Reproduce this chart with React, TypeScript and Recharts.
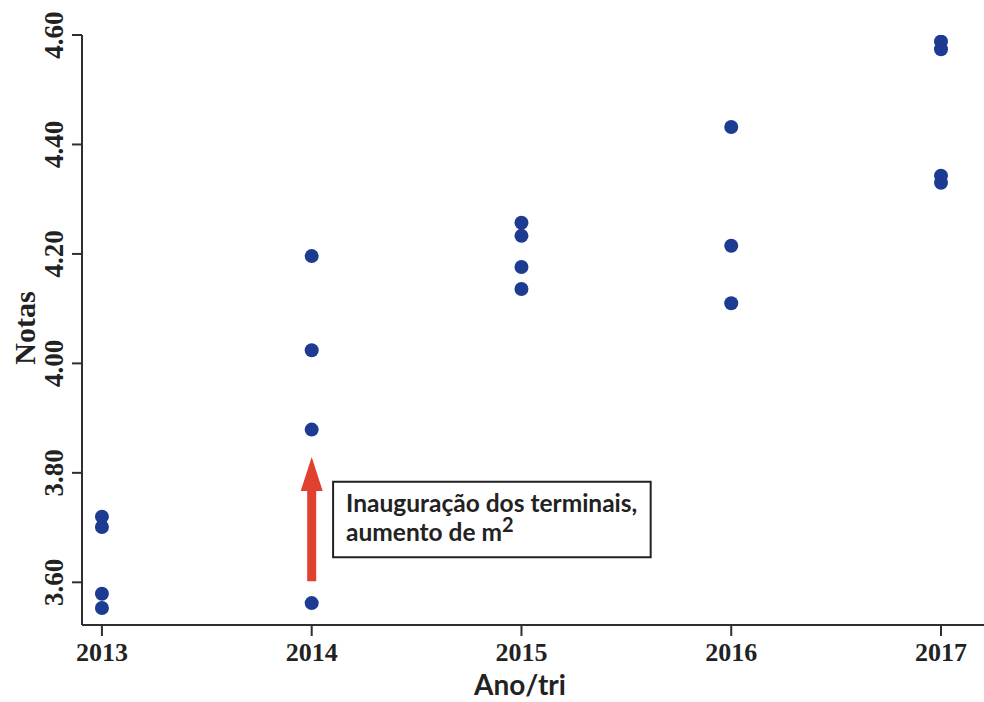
import React from 'react';
import {
  ScatterChart,
  Scatter,
  XAxis,
  YAxis,
  ReferenceLine,
  ReferenceDot,
  ReferenceArea,
  Label,
} from 'recharts';

const years = [2013, 2014, 2015, 2016, 2017];
const notas2013 = [3.72, 3.701, 3.579, 3.553];
const notas2014 = [4.196, 4.024, 3.879, 3.562];
const notas2015 = [4.257, 4.233, 4.176, 4.136];
const notas2016 = [4.432, 4.215, 4.11];
const notas2017 = [4.588, 4.574, 4.343, 4.33];
const notasPorAno = [notas2013, notas2014, notas2015, notas2016, notas2017];
const yTicks = [3.6, 3.8, 4.0, 4.2, 4.4, 4.6];
const xTitle = 'Ano/tri';
const yTitle = 'Notas';
const noteLine1 = 'Inauguração dos terminais,';
const noteLine2 = 'aumento de m';
const noteSup = '2';

const data = years.flatMap((ano, i) => notasPorAno[i].map((nota) => ({ x: ano, y: nota })));

const AXIS = '#2f2f2f';
const DOT = '#1d3b90';
const RED = '#e0402e';
const SERIF = '"Liberation Serif", "Times New Roman", serif';
const SANS = 'Lato, "Open Sans", sans-serif';

const XTick = (p: any) => (
  <text x={p.x} y={p.y + 25} textAnchor="middle" fontFamily={SERIF} fontWeight="bold" fontSize={26} fill="#222">
    {p.payload.value}
  </text>
);

const YTick = (p: any) => {
  const bx = p.x - 9;
  return (
    <text
      x={bx}
      y={p.y}
      transform={`rotate(-90, ${bx}, ${p.y})`}
      textAnchor="middle"
      fontFamily={SERIF}
      fontWeight="bold"
      fontSize={27}
      fill="#222"
    >
      {Number(p.payload.value).toFixed(2)}
    </text>
  );
};

const XTitle = (p: any) => {
  const vb = p.viewBox;
  return (
    <text x={vb.x + 438} y={vb.y + 70} textAnchor="middle" fontFamily={SANS} fontWeight="bold" fontSize={28} fill="#222">
      {xTitle}
    </text>
  );
};

const YTitle = (p: any) => {
  const vb = p.viewBox;
  const x = vb.x + 35;
  const y = vb.y + vb.height / 2 - 2;
  return (
    <text x={x} y={y} transform={`rotate(-90, ${x}, ${y})`} textAnchor="middle" fontFamily={SERIF} fontWeight="bold" fontSize={30} fill="#222">
      {yTitle}
    </text>
  );
};

const NoteLabel = (p: any) => {
  const vb = p.viewBox;
  return (
    <g fontFamily={SANS} fontWeight="bold" fill="#222">
      <text x={vb.x + 13} y={vb.y + 30} fontSize={24.5}>{noteLine1}</text>
      <text x={vb.x + 13} y={vb.y + 59} fontSize={24.5}>
        {noteLine2}
        <tspan dy={-9} fontSize={20}>{noteSup}</tspan>
      </text>
    </g>
  );
};

const ArrowHead = (p: any) => (
  <polygon points={`${p.cx},${p.cy} ${p.cx - 11},${p.cy + 34} ${p.cx + 11},${p.cy + 34}`} fill={RED} />
);

const Dot = (p: any) => <circle cx={p.cx} cy={p.cy} r={7} fill={DOT} />;

export default function App() {
  return (
    <div style={{ position: 'absolute', left: 0, top: 0, background: '#fff' }}>
      <ScatterChart width={984} height={702} margin={{ top: 35, right: 0, bottom: 0, left: 0 }}>
        <XAxis
          type="number"
          dataKey="x"
          domain={[2012.905, 2017.205]}
          ticks={years}
          height={77}
          tickSize={11}
          tickMargin={0}
          axisLine={{ stroke: AXIS, strokeWidth: 2 }}
          tickLine={{ stroke: AXIS, strokeWidth: 2 }}
          tick={<XTick />}
          allowDataOverflow
        >
          <Label content={<XTitle />} />
        </XAxis>
        <YAxis
          type="number"
          dataKey="y"
          domain={[3.522, 4.6]}
          ticks={yTicks}
          width={82}
          tickSize={10}
          tickMargin={0}
          axisLine={{ stroke: AXIS, strokeWidth: 2 }}
          tickLine={{ stroke: AXIS, strokeWidth: 2 }}
          tick={<YTick />}
          allowDataOverflow
        >
          <Label content={<YTitle />} />
        </YAxis>
        <ReferenceLine
          segment={[
            { x: 2014, y: 3.602 },
            { x: 2014, y: 3.772 },
          ]}
          stroke={RED}
          strokeWidth={9}
        />
        <ReferenceDot x={2014} y={3.829} shape={<ArrowHead />} />
        <ReferenceArea
          x1={2014.102}
          x2={2015.616}
          y1={3.6457}
          y2={3.7837}
          fill="#fff"
          fillOpacity={1}
          stroke="#222"
          strokeWidth={2}
          label={<NoteLabel />}
        />
        <Scatter data={data} shape={<Dot />} isAnimationActive={false} />
      </ScatterChart>
    </div>
  );
}
